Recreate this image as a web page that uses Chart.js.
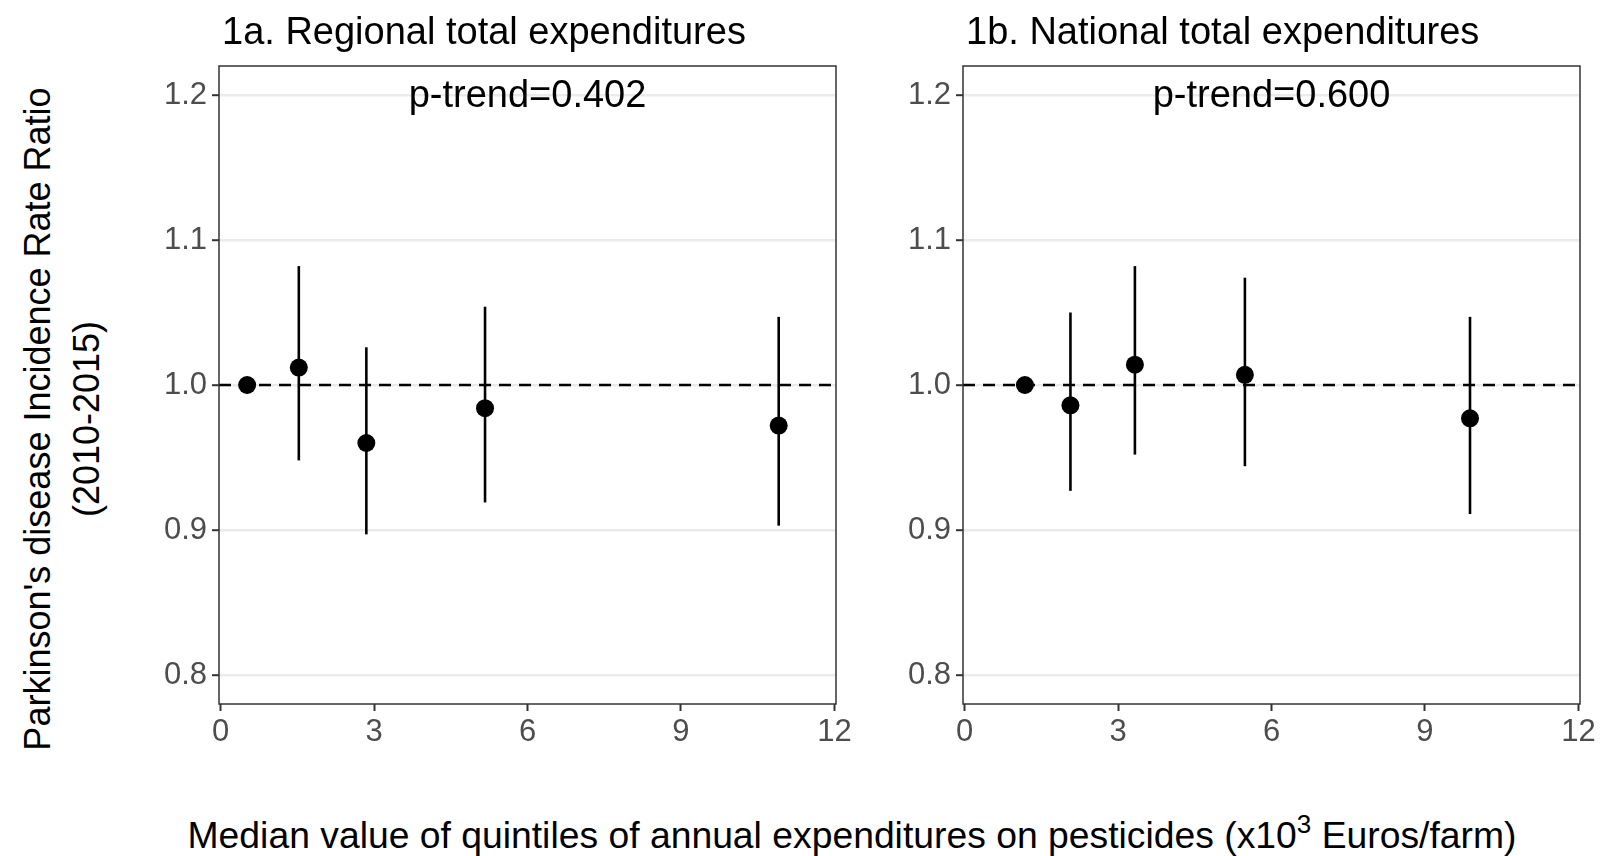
<!DOCTYPE html>
<html>
<head>
<meta charset="utf-8">
<script src="https://cdn.jsdelivr.net/npm/chart.js@4.4.1/dist/chart.umd.min.js"></script>
<style>
  body { margin: 0; background: #fff; }
  #page { position: relative; width: 1602px; height: 856px; overflow: hidden; background: #fff;
          font-family: "Liberation Sans", Arial, sans-serif; color: #000; }
  .panel { position: absolute; top: 0; width: 726px; height: 770px; }
  #p1 { left: 140px; }
  #p2 { left: 884px; }
  #ytitle { position: absolute; left: -288px; top: 370px; width: 700px; height: 98px;
            font-size: 36px; line-height: 49px; text-align: center; transform: rotate(-90deg); }
  #xtitle { position: absolute; left: 52px; top: 817px; width: 1600px; text-align: center;
            font-size: 37.3px; line-height: 37px; white-space: nowrap; }
  #xtitle sup { font-size: 26px; vertical-align: 0; position: relative; top: -15px; }
</style>
</head>
<body>
<div id="page">
  <div class="panel" id="p1"><canvas id="chartRegional" width="726" height="770"></canvas></div>
  <div class="panel" id="p2"><canvas id="chartNational" width="726" height="770"></canvas></div>
  <div id="ytitle">Parkinson's disease Incidence Rate Ratio<br>(2010-2015)</div>
  <div id="xtitle">Median value of quintiles of annual expenditures on pesticides (x10<sup>3</sup> Euros/farm)</div>
</div>
<script>
// Tick labels
const xTicks = [0, 3, 6, 9, 12];
const yTicks = [0.8, 0.9, 1.0, 1.1, 1.2];

// 1a. Regional total expenditures
const regionalX = [0.52, 1.53, 2.85, 5.17, 10.91];
const regionalIRR = [1.000, 1.012, 0.960, 0.984, 0.972];
const regionalLow = [null, 0.948, 0.897, 0.919, 0.903];
const regionalHigh = [null, 1.082, 1.026, 1.054, 1.047];

// 1b. National total expenditures
const nationalX = [1.18, 2.07, 3.33, 5.48, 9.88];
const nationalIRR = [1.000, 0.986, 1.014, 1.007, 0.977];
const nationalLow = [null, 0.927, 0.952, 0.944, 0.911];
const nationalHigh = [null, 1.050, 1.082, 1.074, 1.047];

const FONT = '"Liberation Sans", Arial, sans-serif';

// Dashed reference line, panel border, panel title and p-trend label
const panelDecor = {
  id: 'panelDecor',
  beforeDatasetsDraw(chart, args, opts) {
    const { ctx, chartArea: a, scales: { y } } = chart;
    const yRef = y.getPixelForValue(1);
    ctx.save();
    ctx.strokeStyle = '#000';
    ctx.lineWidth = 2.5;
    ctx.setLineDash([12, 8]);
    ctx.beginPath();
    ctx.moveTo(a.left, yRef);
    ctx.lineTo(a.right, yRef);
    ctx.stroke();
    ctx.restore();
  },
  afterDraw(chart, args, opts) {
    const { ctx, chartArea: a, scales: { x, y } } = chart;
    ctx.save();
    ctx.strokeStyle = '#333';
    ctx.lineWidth = 1.5;
    ctx.strokeRect(a.left, a.top, a.right - a.left, a.bottom - a.top);
    ctx.fillStyle = '#000';
    ctx.font = '38px ' + FONT;
    ctx.textAlign = 'left';
    ctx.textBaseline = 'alphabetic';
    ctx.fillText(opts.title, a.left + 3, 44);
    ctx.textAlign = 'center';
    ctx.textBaseline = 'middle';
    ctx.fillText(opts.note, x.getPixelForValue(6), y.getPixelForValue(1.2) + 2);
    ctx.restore();
  }
};

function makeChart(id, xs, irr, low, high, title, note) {
  const bars = [];
  xs.forEach((xv, i) => {
    if (low[i] === null) return;
    bars.push({
      data: [{ x: xv, y: low[i] }, { x: xv, y: high[i] }],
      showLine: true,
      borderColor: '#000',
      borderWidth: 2.6,
      pointRadius: 0
    });
  });
  new Chart(document.getElementById(id), {
    type: 'scatter',
    data: {
      datasets: [
        ...bars,
        {
          data: xs.map((xv, i) => ({ x: xv, y: irr[i] })),
          backgroundColor: '#000',
          borderWidth: 0,
          pointRadius: 9
        }
      ]
    },
    options: {
      responsive: false,
      animation: false,
      devicePixelRatio: 1,
      layout: { padding: { top: 66, right: 30, bottom: 0, left: 0 } },
      plugins: {
        legend: { display: false },
        tooltip: { enabled: false },
        panelDecor: { title: title, note: note }
      },
      scales: {
        x: {
          type: 'linear',
          min: -0.03,
          max: 12.03,
          afterBuildTicks: (s) => { s.ticks = xTicks.map((v) => ({ value: v })); },
          afterFit: (s) => { s.height = 66; },
          grid: { drawOnChartArea: false, drawTicks: true, tickLength: 7, tickColor: '#333', tickWidth: 2 },
          border: { display: false },
          ticks: { color: '#4d4d4d', font: { size: 31, family: FONT }, padding: 3, maxRotation: 0, autoSkip: false }
        },
        y: {
          type: 'linear',
          min: 0.78,
          max: 1.22,
          afterBuildTicks: (s) => { s.ticks = yTicks.map((v) => ({ value: v })); },
          afterFit: (s) => { s.width = 79; },
          grid: { color: '#ebebeb', lineWidth: 2.4, tickLength: 7, tickColor: '#333', tickWidth: 2 },
          border: { display: false },
          ticks: {
            color: '#4d4d4d', font: { size: 31, family: FONT }, padding: 5,
            callback: (v) => Number(v).toFixed(1)
          }
        }
      }
    },
    plugins: [panelDecor]
  });
}

makeChart('chartRegional', regionalX, regionalIRR, regionalLow, regionalHigh,
  '1a. Regional total expenditures', 'p-trend=0.402');
makeChart('chartNational', nationalX, nationalIRR, nationalLow, nationalHigh,
  '1b. National total expenditures', 'p-trend=0.600');
</script>
</body>
</html>
